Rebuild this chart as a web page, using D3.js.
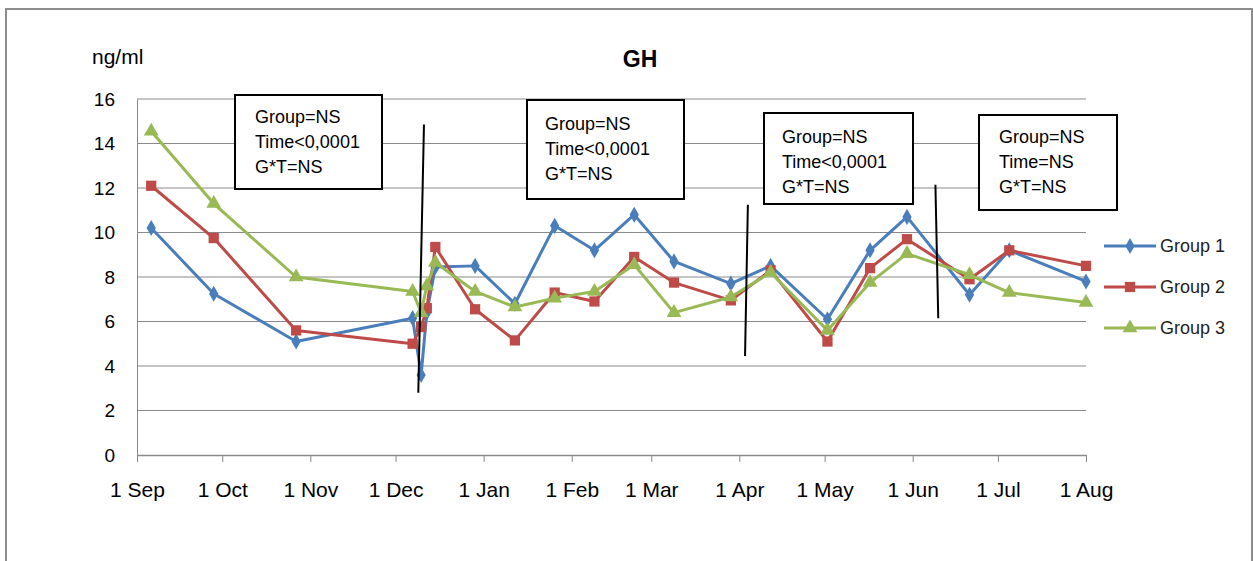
<!DOCTYPE html>
<html><head><meta charset="utf-8">
<script src="https://cdnjs.cloudflare.com/ajax/libs/d3/7.8.5/d3.min.js"></script>
<style>body{margin:0;background:#fff}svg{display:block;font-family:"Liberation Sans",Arial,sans-serif}</style>
</head><body><svg id="c" width="1253" height="561"></svg>
<script>
const dates = ["2010-09-06","2010-09-28","2010-10-27","2010-12-07","2010-12-10","2010-12-12","2010-12-15","2010-12-29","2011-01-12","2011-01-26","2011-02-09","2011-02-23","2011-03-09","2011-03-29","2011-04-12","2011-05-02","2011-05-17","2011-05-30","2011-06-21","2011-07-05","2011-08-01"];
const group1 = [10.2,7.25,5.1,6.15,3.6,6.4,8.45,8.5,6.8,10.3,9.2,10.8,8.7,7.7,8.5,6.1,9.2,10.7,7.2,9.2,7.8];
const group2 = [12.1,9.75,5.6,5.0,5.75,6.6,9.35,6.55,5.15,7.3,6.9,8.9,7.75,6.95,8.3,5.1,8.4,9.7,7.9,9.2,8.5];
const group3 = [14.55,11.3,8.0,7.35,6.4,7.6,8.65,7.35,6.65,7.05,7.35,8.55,6.4,7.1,8.2,5.6,7.75,9.05,8.1,7.3,6.85];
const seriesNames = ["Group 1","Group 2","Group 3"];
const xTickDates = ["2010-09-01","2010-10-01","2010-11-01","2010-12-01","2011-01-01","2011-02-01","2011-03-01","2011-04-01","2011-05-01","2011-06-01","2011-07-01","2011-08-01"];
const xTickLabels = ["1 Sep","1 Oct","1 Nov","1 Dec","1 Jan","1 Feb","1 Mar","1 Apr","1 May","1 Jun","1 Jul","1 Aug"];
const yTicks = [0,2,4,6,8,10,12,14,16];
const statBoxes = [
  ["Group=NS","Time<0,0001","G*T=NS"],
  ["Group=NS","Time<0,0001","G*T=NS"],
  ["Group=NS","Time<0,0001","G*T=NS"],
  ["Group=NS","Time=NS","G*T=NS"]
];
// separator lines: [date top, value top, date bottom, value bottom]
const separators = [
  ["2010-12-11",14.85,"2010-12-09",2.8],
  ["2011-04-04",11.25,"2011-04-03",4.45],
  ["2011-06-09",12.15,"2011-06-10",6.15]
];

const parse = d3.timeParse("%Y-%m-%d");
const svg = d3.select("#c");
const colors = ["#4A7EBB","#BE4B48","#98B954"];
const shapes = [d3.symbolDiamond, d3.symbolSquare, d3.symbolTriangle];
const shapeSizes = [75, 105, 95];

// outer frame
svg.append("path").attr("d","M6,562 L6,9 L1252,9 L1252,562").attr("fill","none").attr("stroke","#8c8c8c").attr("stroke-width",2);

const x = d3.scaleTime().domain([parse("2010-09-01"), parse("2011-08-01")]).range([137, 1086]);
const y = d3.scaleLinear().domain([0,16]).range([455, 99]);

// gridlines
svg.append("g").selectAll("line").data(yTicks.slice(1)).join("line")
  .attr("x1",137).attr("x2",1086).attr("y1",d=>y(d)).attr("y2",d=>y(d))
  .attr("stroke","#8a8a8a").attr("stroke-width",1);

// y axis
const yAx = svg.append("g").attr("transform","translate(137,0)")
  .call(d3.axisLeft(y).tickValues(yTicks).tickSize(0).tickPadding(22));
yAx.select(".domain").attr("stroke","#8a8a8a");
yAx.selectAll("text").attr("font-size",19).attr("fill","#000").attr("font-family","Liberation Sans, Arial");

// x axis
const xAx = svg.append("g").attr("transform","translate(0,455)")
  .call(d3.axisBottom(x).tickValues(xTickDates.map(parse)).tickFormat((d,i)=>xTickLabels[i]).tickSize(7).tickPadding(20).tickSizeOuter(0));
xAx.select(".domain").attr("stroke","#8a8a8a").attr("stroke-width",1.5);
xAx.selectAll("line").attr("stroke","#8a8a8a");
xAx.selectAll("text").attr("font-size",21).attr("fill","#000").attr("font-family","Liberation Sans, Arial");

// titles
svg.append("text").attr("x",640).attr("y",67).attr("text-anchor","middle").attr("font-size",23).attr("font-weight","bold").text("GH");
svg.append("text").attr("x",92).attr("y",64).attr("font-size",21).text("ng/ml");

// series
const all = [group1, group2, group3];
const line = d3.line().x((d,i)=>x(parse(dates[i]))).y(d=>y(d));
all.forEach((vals,k)=>{
  const g = svg.append("g");
  g.append("path").attr("d",line(vals)).attr("fill","none").attr("stroke",colors[k]).attr("stroke-width",3).attr("stroke-linejoin","round");
  g.selectAll("path.m").data(vals).join("path").attr("class","m")
    .attr("transform",(d,i)=>`translate(${x(parse(dates[i]))},${y(d)})`)
    .attr("d",d3.symbol().type(shapes[k]).size(shapeSizes[k])).attr("fill",colors[k]);
});

// separators
svg.append("g").selectAll("line").data(separators).join("line")
  .attr("x1",d=>x(parse(d[0]))).attr("y1",d=>y(d[1])).attr("x2",d=>x(parse(d[2]))).attr("y2",d=>y(d[3]))
  .attr("stroke","#000").attr("stroke-width",2);

// stat boxes (positions)
const boxPos = [[235,95,147,94,255,117],[527,100,157,99,545,124],[764,113,149,91,782,137],[979,115,138,95,999,137]];
statBoxes.forEach((lines,i)=>{
  const [bx,by,bw,bh,tx,ty] = boxPos[i];
  svg.append("rect").attr("x",bx).attr("y",by).attr("width",bw).attr("height",bh).attr("fill","#fff").attr("stroke","#000").attr("stroke-width",2);
  lines.forEach((t,j)=>svg.append("text").attr("x",tx).attr("y",ty+j*25).attr("dy","0.35em").attr("font-size",18).text(t));
});

// legend
const lg = svg.append("g");
seriesNames.forEach((n,k)=>{
  const ly = 246 + k*41;
  lg.append("line").attr("x1",1104).attr("x2",1156).attr("y1",ly).attr("y2",ly).attr("stroke",colors[k]).attr("stroke-width",3);
  lg.append("path").attr("transform",`translate(1130,${ly})`).attr("d",d3.symbol().type(shapes[k]).size(shapeSizes[k])).attr("fill",colors[k]);
  lg.append("text").attr("x",1160).attr("y",ly).attr("dy","0.35em").attr("font-size",18).attr("fill","#222").text(n);
});
</script></body></html>
